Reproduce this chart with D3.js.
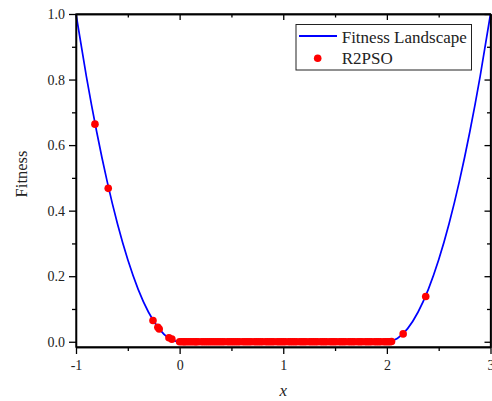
<!DOCTYPE html>
<html>
<head>
<meta charset="utf-8">
<script src="https://cdn.jsdelivr.net/npm/d3@7"></script>
<style>
html,body{margin:0;padding:0;background:#fff;}
svg{display:block;font-family:"Liberation Serif","Times New Roman",serif;}
</style>
</head>
<body>
<svg id="chart" width="492" height="401"></svg>
<script>
// Fitness landscape curve
const curveX = [-1.0,-0.9,-0.8,-0.7,-0.6,-0.5,-0.4,-0.3,-0.2,-0.1,0.0,0.5,1.0,1.5,2.0,2.1,2.2,2.3,2.4,2.5,2.6,2.7,2.8,2.9,3.0];
const curveY = [1.0,0.81,0.64,0.49,0.36,0.25,0.16,0.09,0.04,0.01,0.0,0.0,0.0,0.0,0.0,0.01,0.04,0.09,0.16,0.25,0.36,0.49,0.64,0.81,1.0];

// R2PSO particles on the slopes
const slopeX = [-0.817,-0.689,-0.257,-0.21,-0.197,-0.103,-0.075,2.157,2.375];
const slopeY = [0.664,0.468,0.065,0.044,0.039,0.012,0.008,0.024,0.138];
// R2PSO particles converged on the flat region
const flatX = [
  0.00,0.02,0.04,0.05,0.07,0.09,0.11,0.13,0.15,0.16,0.18,0.21,0.23,0.25,0.27,0.29,0.31,0.33,0.35,0.37,
  0.39,0.41,0.43,0.46,0.48,0.50,0.52,0.54,0.56,0.58,0.61,0.63,0.65,0.67,0.69,0.72,0.74,0.76,0.78,0.80,
  0.83,0.85,0.87,0.89,0.91,0.94,0.96,0.98,1.00,1.02,1.05,1.07,1.09,1.11,1.13,1.16,1.18,1.20,1.22,1.25,
  1.27,1.29,1.31,1.33,1.36,1.38,1.40,1.42,1.45,1.47,1.49,1.51,1.54,1.56,1.58,1.60,1.63,1.65,1.67,1.69,
  1.72,1.74,1.76,1.79,1.81,1.83,1.85,1.88,1.90,1.92,1.94,1.97,1.99,2.01,2.03,2.045];
const flatY = [
  0,0,0,0,0,0,0,0,0,0,0,0,0,0,0,0,0,0,0,0,
  0,0,0,0,0,0,0,0,0,0,0,0,0,0,0,0,0,0,0,0,
  0,0,0,0,0,0,0,0,0,0,0,0,0,0,0,0,0,0,0,0,
  0,0,0,0,0,0,0,0,0,0,0,0,0,0,0,0,0,0,0,0,
  0,0,0,0,0,0,0,0,0,0,0,0,0,0,0,0.001];

const xMajor = [-1,0,1,2,3];
const xMinor = [-0.5,0.5,1.5,2.5];
const yMajor = [0.0,0.2,0.4,0.6,0.8,1.0];
const yMinor = [0.1,0.3,0.5,0.7,0.9];
const seriesNames = ["Fitness Landscape","R2PSO"];

const L = 76, R = 490.5, T = 14, B = 347;
const x = d3.scaleLinear().domain([-1,3]).range([L,R]);
const y = d3.scaleLinear().domain([-0.016,1.0]).range([B,T]);

const svg = d3.select("#chart");

// curve
const line = d3.line().x((d,i)=>x(curveX[i])).y((d,i)=>y(curveY[i])).curve(d3.curveMonotoneX);
svg.append("path").datum(curveX).attr("d",line)
  .attr("fill","none").attr("stroke","#0000ff").attr("stroke-width",1.7);

// points
const pts = slopeX.map((d,i)=>[d,slopeY[i]]).concat(flatX.map((d,i)=>[d,flatY[i]]));
svg.append("g").selectAll("circle").data(pts).join("circle")
  .attr("cx",d=>x(d[0])).attr("cy",d=>y(d[1])).attr("r",3.8).attr("fill","#ff0000");

// axes
const axW = 1.3;
function ax(gen, tx, ty, ticks, size, fmt){
  const g = svg.append("g").attr("transform",`translate(${tx},${ty})`)
    .call(gen.tickValues(ticks).tickSize(size).tickSizeOuter(0).tickFormat(fmt));
  g.select(".domain").attr("stroke-width",axW);
  g.selectAll(".tick line").attr("stroke-width",axW);
  g.selectAll("text").attr("font-family","Liberation Serif, serif").attr("font-size",14).attr("fill","#222");
  return g;
}
// bottom
ax(d3.axisBottom(x), 0, B, xMajor, 7, d=>String(d)).selectAll("text").attr("dy","0.95em");
ax(d3.axisBottom(x), 0, B, xMinor, 4, ()=>"");
// top (inward)
ax(d3.axisBottom(x), 0, T, xMajor, 6, ()=>"");
ax(d3.axisBottom(x), 0, T, xMinor, 3.5, ()=>"");
// left
ax(d3.axisLeft(y), L, 0, yMajor, 7, d3.format(".1f")).selectAll("text").attr("dx","-1");
ax(d3.axisLeft(y), L, 0, yMinor, 4, ()=>"");
// right (inward)
ax(d3.axisLeft(y), R, 0, yMajor, 6, ()=>"");
ax(d3.axisLeft(y), R, 0, yMinor, 3.5, ()=>"");

// frame
svg.append("rect").attr("x",L).attr("y",T).attr("width",R-L).attr("height",B-T)
  .attr("fill","none").attr("stroke","#000").attr("stroke-width",axW);

// axis titles
svg.append("text").attr("transform",`translate(27,174) rotate(-90)`)
  .attr("text-anchor","middle").attr("font-size",16.5).attr("fill","#222").text("Fitness");
svg.append("text").attr("x",x(1)).attr("y",396).attr("text-anchor","middle")
  .attr("font-size",17).attr("font-style","italic").attr("fill","#222").text("x");

// legend
const lg = svg.append("g");
lg.append("rect").attr("x",296).attr("y",24.5).attr("width",175.5).attr("height",45.5)
  .attr("fill","#fff").attr("stroke","#222").attr("stroke-width",1);
lg.append("line").attr("x1",299).attr("x2",337).attr("y1",36).attr("y2",36)
  .attr("stroke","#0000ff").attr("stroke-width",1.8);
lg.append("circle").attr("cx",317.7).attr("cy",58.3).attr("r",3.8).attr("fill","#ff0000");
lg.selectAll("text").data(seriesNames).join("text")
  .attr("x",341.7).attr("y",(d,i)=>i===0?42.8:64.2)
  .attr("font-size",17).attr("fill","#222").text(d=>d);
</script>
</body>
</html>
